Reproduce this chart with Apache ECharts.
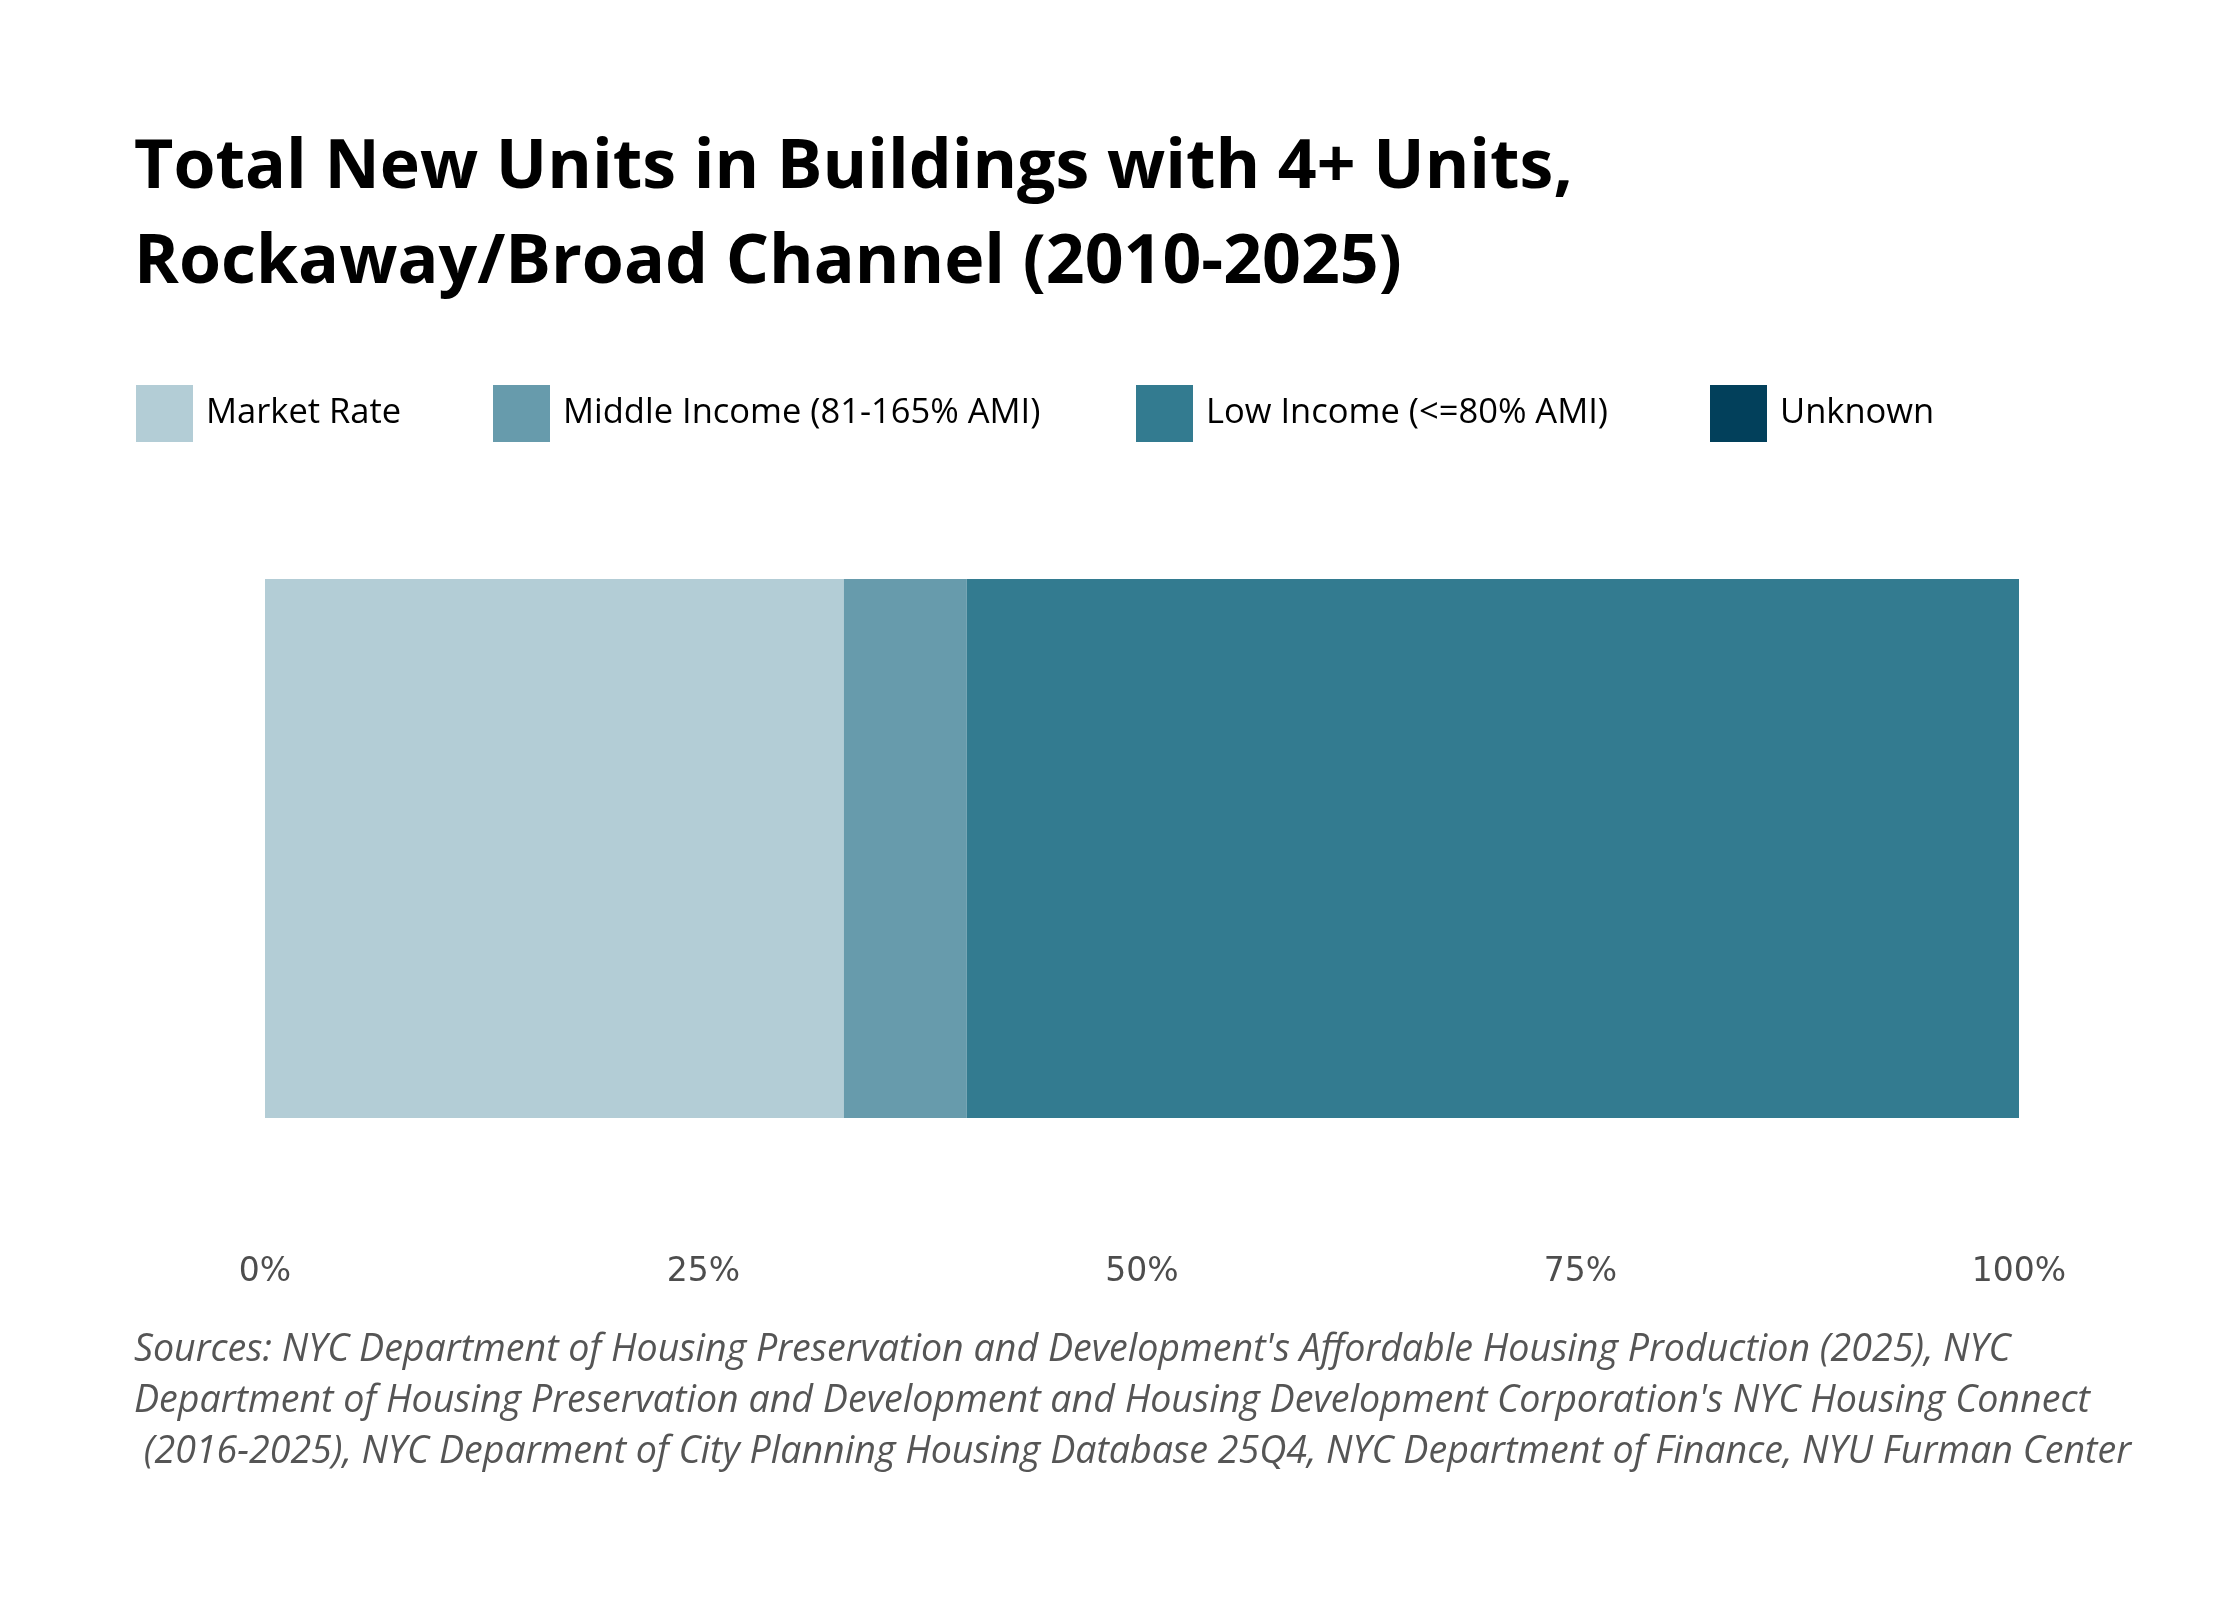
<!DOCTYPE html>
<html>
<head>
<meta charset="utf-8">
<script src="https://cdn.jsdelivr.net/npm/echarts@6/dist/echarts.min.js"></script>
<style>
html,body{margin:0;padding:0;background:#fff;}
#chart{width:2240px;height:1600px;}
</style>
</head>
<body>
<div id="chart"></div>
<script>
const categories = ['Rockaway/Broad Channel'];
const seriesNames = ['Market Rate', 'Middle Income (81-165% AMI)', 'Low Income (<=80% AMI)', 'Unknown'];
const marketRate = [33.0];
const middleIncome = [7.0];
const lowIncome = [60.0];
const unknown = [0];
const xTicks = [0, 25, 50, 75, 100];
const titleText = 'Total New Units in Buildings with 4+ Units,\nRockaway/Broad Channel (2010-2025)';
const sourceText = "Sources: NYC Department of Housing Preservation and Development's Affordable Housing Production (2025), NYC\nDepartment of Housing Preservation and Development and Housing Development Corporation's NYC Housing Connect\n (2016-2025), NYC Deparment of City Planning Housing Database 25Q4, NYC Department of Finance, NYU Furman Center";

const colors = ['#b3cdd6', '#679bac', '#337b90', '#02405b'];
const seriesData = [marketRate, middleIncome, lowIncome, unknown];
const legendLefts = [136, 493, 1136, 1710];

const chart = echarts.init(document.getElementById('chart'), null, {renderer: 'canvas'});

const legends = seriesNames.map((name, i) => ({
  data: [name],
  left: legendLefts[i],
  top: 385,
  padding: 0,
  itemWidth: 57,
  itemHeight: 57,
  icon: 'rect',
  selectedMode: false,
  textStyle: {
    fontFamily: 'Open Sans',
    fontSize: 34.5,
    color: '#000',
    padding: [0, 0, 0, 8]
  }
}));

chart.setOption({
  backgroundColor: '#ffffff',
  animation: false,
  color: colors,
  title: [
    {
      text: titleText,
      left: 134,
      top: 121,
      padding: 0,
      textStyle: {
        fontFamily: 'Open Sans',
        fontWeight: 'bold',
        fontSize: 68,
        lineHeight: 95,
        color: '#000'
      }
    },
    {
      text: sourceText,
      left: 134,
      top: 1325,
      padding: 0,
      textStyle: {
        fontFamily: 'Open Sans',
        fontStyle: 'italic',
        fontWeight: 'normal',
        fontSize: 37.6,
        lineHeight: 51,
        color: '#555'
      }
    }
  ],
  legend: legends,
  grid: {
    left: 265,
    right: 221,
    top: 579,
    height: 539,
    containLabel: false
  },
  xAxis: {
    type: 'value',
    min: xTicks[0],
    max: xTicks[xTicks.length - 1],
    interval: 25,
    axisLine: {show: false},
    axisTick: {show: false},
    splitLine: {show: false},
    axisLabel: {
      margin: 138,
      fontFamily: 'DejaVu Sans',
      fontSize: 33,
      color: '#4d4d4d',
      formatter: '{value}%'
    }
  },
  yAxis: {
    type: 'category',
    data: categories,
    axisLine: {show: false},
    axisTick: {show: false},
    axisLabel: {show: false},
    splitLine: {show: false}
  },
  series: seriesNames.map((name, i) => ({
    name: name,
    type: 'bar',
    stack: 'total',
    barWidth: '100%',
    data: seriesData[i],
    itemStyle: {color: colors[i]}
  }))
});
</script>
</body>
</html>
